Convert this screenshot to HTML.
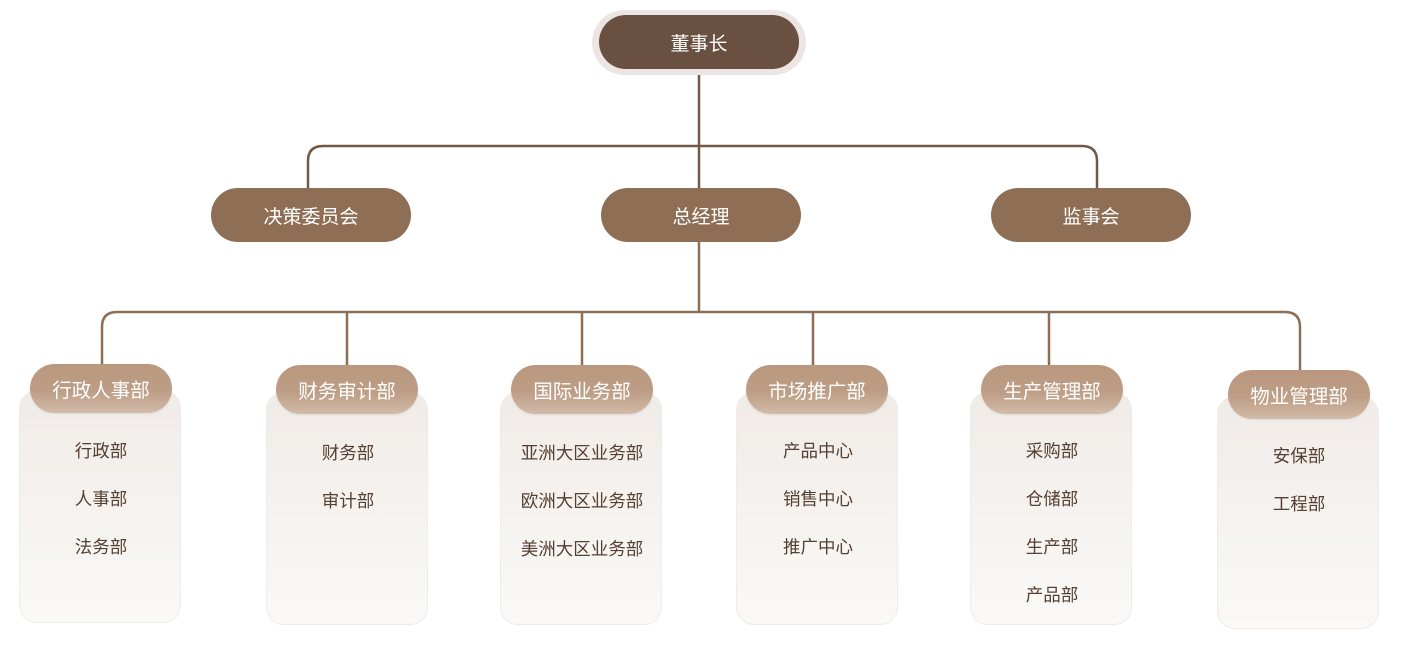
<!DOCTYPE html>
<html><head><meta charset="utf-8"><style>
*{margin:0;padding:0;box-sizing:border-box}
body{width:1402px;height:661px;background:#fff;position:relative;overflow:hidden;font-family:"Liberation Sans","Noto Sans CJK SC",sans-serif}
.abs{position:absolute}
.pill{position:absolute;display:flex;align-items:center;justify-content:center;color:#fff;border-radius:30px}
.mid{background:#8e6e55;width:200px;height:54px;top:188px;font-size:19px;border-radius:27px}
.card{position:absolute;width:162px;height:233px;border-radius:18px;border:1px solid #efebe8;background:linear-gradient(#f0ebe7,#faf9f7)}
.hd{position:absolute;width:142px;height:49px;border-radius:25px;background:linear-gradient(#b9987f 0%,#bd9d85 55%,#d1bba9 100%);color:#fff;font-size:19.5px;display:flex;align-items:center;justify-content:center;box-shadow:0 1px 2px rgba(0,0,0,.08)}
.it{position:absolute;width:162px;text-align:center;color:#543f33;font-size:17.5px;line-height:20px;font-weight:normal}
</style></head><body>
<svg class="abs" style="left:0;top:0" width="1402" height="661">
<g fill="none" stroke="#735846" stroke-width="2.5">
<line x1="699" y1="74" x2="699" y2="190"/>
<path d="M308 190 V161 Q308 146 323 146 H1082 Q1097 146 1097 161 V190"/>
</g>
<g fill="none" stroke="#8e6e55" stroke-width="2.5">
<line x1="699" y1="240" x2="699" y2="312"/>
<path d="M102 372 V327 Q102 312 117 312 H1285 Q1300 312 1300 327 V372"/>
<line x1="347" y1="312" x2="347" y2="367"/>
<line x1="582" y1="312" x2="582" y2="367"/>
<line x1="813" y1="312" x2="813" y2="367"/>
<line x1="1049" y1="312" x2="1049" y2="367"/>
</g>
</svg>
<div class="abs" style="left:592px;top:10px;width:214px;height:65px;border-radius:33px;background:#ebe6e3"></div>
<div class="pill" style="left:599px;top:15px;width:200px;height:54px;background:#6a5040;font-size:19px;border-radius:27px">董事长</div>
<div class="pill mid" style="left:211px">决策委员会</div>
<div class="pill mid" style="left:601px">总经理</div>
<div class="pill mid" style="left:991px">监事会</div>

<div class="card" style="left:19px;top:390px"></div>
<div class="hd" style="left:30px;top:364px">行政人事部</div>
<div class="it" style="left:20px;top:441px">行政部</div>
<div class="it" style="left:20px;top:489px">人事部</div>
<div class="it" style="left:20px;top:537px">法务部</div>

<div class="card" style="left:266px;top:392px"></div>
<div class="hd" style="left:276px;top:365px">财务审计部</div>
<div class="it" style="left:267px;top:443px">财务部</div>
<div class="it" style="left:267px;top:491px">审计部</div>

<div class="card" style="left:500px;top:392px"></div>
<div class="hd" style="left:511px;top:365px">国际业务部</div>
<div class="it" style="left:501px;top:443px">亚洲大区业务部</div>
<div class="it" style="left:501px;top:491px">欧洲大区业务部</div>
<div class="it" style="left:501px;top:539px">美洲大区业务部</div>

<div class="card" style="left:736px;top:392px"></div>
<div class="hd" style="left:746px;top:365px">市场推广部</div>
<div class="it" style="left:737px;top:441px">产品中心</div>
<div class="it" style="left:737px;top:489px">销售中心</div>
<div class="it" style="left:737px;top:537px">推广中心</div>

<div class="card" style="left:970px;top:392px"></div>
<div class="hd" style="left:981px;top:365px">生产管理部</div>
<div class="it" style="left:971px;top:441px">采购部</div>
<div class="it" style="left:971px;top:489px">仓储部</div>
<div class="it" style="left:971px;top:537px">生产部</div>
<div class="it" style="left:971px;top:585px">产品部</div>

<div class="card" style="left:1217px;top:396px"></div>
<div class="hd" style="left:1228px;top:370px">物业管理部</div>
<div class="it" style="left:1218px;top:446px">安保部</div>
<div class="it" style="left:1218px;top:494px">工程部</div>
</body></html>
